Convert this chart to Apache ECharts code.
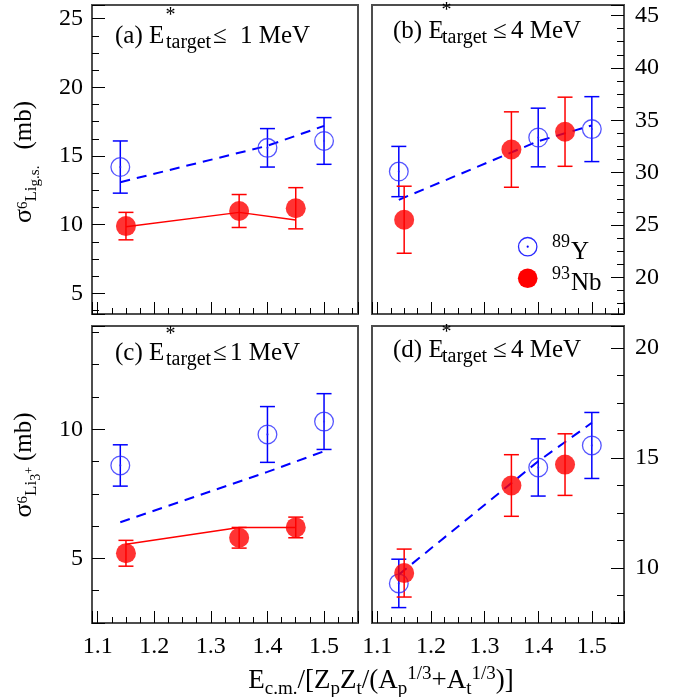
<!DOCTYPE html>
<html>
<head>
<meta charset="utf-8">
<script src="https://cdn.jsdelivr.net/npm/echarts@6/dist/echarts.min.js"></script>
<style>
  html, body { margin: 0; padding: 0; background: #ffffff; }
  #chart { width: 689px; height: 697px; }
</style>
</head>
<body>
<div id="chart"></div>
<script>
// Reduced beam energy of each measurement
const xY = [1.14, 1.40, 1.50];
const xNb = [1.15, 1.35, 1.45];

// (a) 6Li ground state, E*target <= 1 MeV
const aY = [14.2, 15.6, 16.1];
const aYErr = [1.9, 1.4, 1.7];
const aNb = [9.9, 11.0, 11.2];
const aNbErr = [1.0, 1.2, 1.5];
const aCalcY = [13.1, 15.75, 17.2];
const aCalcNb = [9.85, 10.9, 10.35];

// (b) 6Li ground state, E*target <= 4 MeV
const bY = [30.1, 33.35, 34.15];
const bYErr = [2.4, 2.8, 3.1];
const bNb = [25.5, 32.2, 33.9];
const bNbErr = [3.2, 3.6, 3.3];
const bCalcY = [27.4, 33.0, 34.5];

// (c) 6Li 3+ state, E*target <= 1 MeV
const cY = [8.6, 9.8, 10.3];
const cYErr = [0.8, 1.08, 1.08];
const cNb = [5.2, 5.8, 6.2];
const cNbErr = [0.5, 0.4, 0.4];
const cCalcY = [6.4, 8.35, 9.15];
const cCalcNb = [5.55, 6.2, 6.2];

// (d) 6Li 3+ state, E*target <= 4 MeV
const dY = [9.3, 14.57, 15.57];
const dYErr = [1.1, 1.3, 1.5];
const dNb = [9.77, 13.75, 14.7];
const dNbErr = [1.09, 1.4, 1.4];
const dCalcY = [9.7, 14.85, 16.6];

// Axis ranges and labelled ticks
const xRange = [1.09, 1.56];
const xTicks = [1.1, 1.2, 1.3, 1.4, 1.5];
const aRange = [3.5, 26];
const aTicks = [5, 10, 15, 20, 25];
const bRange = [16.5, 46];
const bTicks = [20, 25, 30, 35, 40, 45];
const cRange = [2.5, 14];
const cTicks = [5, 10];
const dRange = [7.5, 21];
const dTicks = [10, 15, 20];

const SERIF = '"Liberation Serif", "Times New Roman", Times, serif';
const BLUE = '#0000ff';
const RING_BLUE = '#2a2aff';
const RED = '#ff0000';
const FRAME = '#4d4d4d';
// open circle with a centre dot
const RING = 'path://M0,10A10,10,0,1,1,20,10A10,10,0,1,1,0,10Z' +
  'M1.3,10A8.7,8.7,0,1,0,18.7,10A8.7,8.7,0,1,0,1.3,10Z' +
  'M8.9,10A1.1,1.1,0,1,0,11.1,10A1.1,1.1,0,1,0,8.9,10Z';

const zip = (xs, ys) => xs.map((x, i) => [x, ys[i]]);

function labelFrom(ticks) {
  return function (v) {
    const t = ticks.find(t => Math.abs(t - v) < 1e-6);
    return t === undefined ? '' : String(t);
  };
}

const grids = [
  { left: 92, top: 5, width: 266, height: 309 },
  { left: 372, top: 5, width: 252, height: 309 },
  { left: 92, top: 326, width: 266, height: 297 },
  { left: 372, top: 326, width: 252, height: 297 }
].map(g => Object.assign(g, {
  show: true, borderColor: FRAME, borderWidth: 2, backgroundColor: 'transparent', containLabel: false
}));

function xAxisFor(i, showLabels) {
  return {
    type: 'value', gridIndex: i, min: xRange[0], max: xRange[1], splitNumber: 5,
    axisLine: { show: false },
    axisTick: { show: true, inside: true, length: 12, lineStyle: { color: '#000', width: 1 } },
    minorTick: { show: true, splitNumber: 4, length: 6, lineStyle: { color: '#000', width: 1 } },
    splitLine: { show: false },
    axisLabel: {
      show: showLabels, margin: 12, formatter: labelFrom(xTicks),
      fontFamily: SERIF, fontSize: 24, color: '#000'
    }
  };
}

function yAxisFor(i, range, ticks, split, pos) {
  return {
    type: 'value', gridIndex: i, min: range[0], max: range[1], splitNumber: split,
    position: pos,
    axisLine: { show: false },
    axisTick: { show: true, inside: true, length: 13, lineStyle: { color: '#000', width: 1 } },
    minorTick: { show: true, splitNumber: 4, length: 7, lineStyle: { color: '#000', width: 1 } },
    splitLine: { show: false },
    axisLabel: {
      margin: pos === 'right' ? 11 : 9, formatter: labelFrom(ticks),
      fontFamily: SERIF, fontSize: 24, color: '#000'
    }
  };
}

function errorBars(color) {
  return function (params, api) {
    const x = api.value(0), y = api.value(1), e = api.value(2);
    const hi = api.coord([x, y + e]);
    const lo = api.coord([x, y - e]);
    const cap = 7.5;
    const st = { stroke: color, lineWidth: 1.5 };
    return {
      type: 'group',
      children: [
        { type: 'line', shape: { x1: hi[0], y1: hi[1], x2: lo[0], y2: lo[1] }, style: st },
        { type: 'line', shape: { x1: hi[0] - cap, y1: hi[1], x2: hi[0] + cap, y2: hi[1] }, style: st },
        { type: 'line', shape: { x1: lo[0] - cap, y1: lo[1], x2: lo[0] + cap, y2: lo[1] }, style: st }
      ]
    };
  };
}

function panelSeries(i, yVals, yErr, nbVals, nbErr, calcY, calcNb) {
  const ax = { xAxisIndex: i, yAxisIndex: i };
  const list = [];
  list.push(Object.assign({
    type: 'line', data: zip(xY, calcY), symbol: 'none', silent: true, z: 2,
    lineStyle: { color: BLUE, width: 2, type: [10, 7] }
  }, ax));
  if (calcNb) {
    list.push(Object.assign({
      type: 'line', data: zip(xNb, calcNb), symbol: 'none', silent: true, z: 2,
      lineStyle: { color: RED, width: 1.5 }
    }, ax));
  }
  list.push(Object.assign({
    type: 'custom', renderItem: errorBars(BLUE), clip: false, z: 3, encode: { x: 0, y: 1 },
    data: yVals.map((v, k) => [xY[k], v, yErr[k]])
  }, ax));
  list.push(Object.assign({
    type: 'custom', renderItem: errorBars(RED), clip: false, z: 3, encode: { x: 0, y: 1 },
    data: nbVals.map((v, k) => [xNb[k], v, nbErr[k]])
  }, ax));
  list.push(Object.assign({
    type: 'scatter', name: '89Y', data: zip(xY, yVals), symbol: RING, symbolSize: 20, z: 4,
    itemStyle: { color: RING_BLUE }
  }, ax));
  list.push(Object.assign({
    type: 'scatter', name: '93Nb', data: zip(xNb, nbVals), symbol: 'circle', symbolSize: 20, z: 4,
    itemStyle: { color: RED }
  }, ax));
  return list;
}

// plain text placed by its baseline
function txt(str, x, base, fs) {
  return {
    type: 'text', x: x, y: base - 0.3375 * fs, z: 10,
    style: {
      text: str, fontFamily: SERIF, fontSize: fs, fill: '#000',
      align: 'left', textAlign: 'left', verticalAlign: 'middle', textVerticalAlign: 'middle'
    }
  };
}

// rich-text token whose baseline sits `shift` px below the main baseline `base`
function tok(fs, shift, base, padLeft) {
  const pad = Math.max(0, base + shift - 0.8375 * fs);
  return {
    fontFamily: SERIF, fontSize: fs, fill: '#000', height: fs,
    verticalAlign: 'top', padding: [pad, 0, 0, padLeft || 0]
  };
}

function panelTitle(letter, rest, xs, base, subBase, star) {
  return [
    txt('(' + letter + ') E', xs[0], base, 25),
    txt('*', star[0], star[1], 20),
    txt('target', xs[1], subBase, 20),
    txt('\u2264', xs[2], base, 25),
    txt(rest, xs[3], base, 25)
  ];
}

const graphics = [].concat(
  panelTitle('a', '1 MeV', [115, 166, 213, 240], 44.5, 49.5, [165.5, 22]),
  panelTitle('b', '4 MeV', [393, 442, 493, 511], 39.5, 44.5, [441.5, 17]),
  panelTitle('c', '1 MeV', [115, 166, 213, 230], 361.5, 366.5, [165.5, 341]),
  panelTitle('d', '4 MeV', [393, 442, 493, 511], 359, 363.5, [441.5, 339]),
  [
    // legend
    { type: 'circle', z: 10, shape: { cx: 527.7, cy: 246.7, r: 9.2 }, style: { fill: 'none', stroke: RING_BLUE, lineWidth: 1.3 } },
    { type: 'circle', z: 10, shape: { cx: 527.7, cy: 246.7, r: 1.1 }, style: { fill: BLUE } },
    { type: 'circle', z: 10, shape: { cx: 527.7, cy: 278.3, r: 9.8 }, style: { fill: RED } },
    txt('89', 552, 248, 18),
    txt('Y', 571, 260.5, 25),
    txt('93', 552, 280, 18),
    txt('Nb', 571, 292, 25),
    // y-axis titles
    {
      type: 'text', x: 27, y: 162, rotation: Math.PI / 2, z: 10,
      style: {
        text: '{s|\u03c3}{six|6}{li|Li}{gs|g.s.}{mb|(mb)}',
        align: 'center', textAlign: 'center', verticalAlign: 'middle', textVerticalAlign: 'middle',
        fontFamily: SERIF, fontSize: 25, fill: '#000',
        rich: {
          s: tok(26, 0, 22), six: tok(15, -4.7, 22), li: tok(17, 4.7, 22),
          gs: tok(15, 7.5, 22), mb: tok(25, 0, 22, 16)
        }
      }
    },
    {
      type: 'text', x: 27, y: 465, rotation: Math.PI / 2, z: 10,
      style: {
        text: '{s|\u03c3}{six|6}{li|Li}{th|3}{pl|+}{mb|(mb)}',
        align: 'center', textAlign: 'center', verticalAlign: 'middle', textVerticalAlign: 'middle',
        fontFamily: SERIF, fontSize: 25, fill: '#000',
        rich: {
          s: tok(26, 0, 22), six: tok(15, -4.7, 22), li: tok(17, 4.7, 22),
          th: tok(14, 8, 22), pl: tok(12, 1, 22), mb: tok(25, 0, 22, 6)
        }
      }
    },
    // x-axis title
    {
      type: 'text', x: 381, y: 664, z: 10,
      style: {
        text: '{m|E}{sb|c.m.}{m|/[Z}{sb|p}{m|Z}{sb|t}{m|/(A}{sb|p}{sp|1/3}{m|+A}{sb|t}{sp|1/3}{m|)]}',
        align: 'center', textAlign: 'center', verticalAlign: 'top', textVerticalAlign: 'top',
        fontFamily: SERIF, fontSize: 27, fill: '#000',
        rich: { m: tok(27, 0, 26), sb: tok(19, 5.5, 26), sp: tok(19, -10, 26) }
      }
    }
  ]
);

const chart = echarts.init(document.getElementById('chart'), null, { renderer: 'canvas' });
chart.setOption({
  animation: false,
  backgroundColor: '#ffffff',
  grid: grids,
  xAxis: [xAxisFor(0, false), xAxisFor(1, false), xAxisFor(2, true), xAxisFor(3, true)],
  yAxis: [
    yAxisFor(0, aRange, aTicks, 4, 'left'),
    yAxisFor(1, bRange, bTicks, 5, 'right'),
    yAxisFor(2, cRange, cTicks, 2, 'left'),
    yAxisFor(3, dRange, dTicks, 2, 'right')
  ],
  series: [].concat(
    panelSeries(0, aY, aYErr, aNb, aNbErr, aCalcY, aCalcNb),
    panelSeries(1, bY, bYErr, bNb, bNbErr, bCalcY, null),
    panelSeries(2, cY, cYErr, cNb, cNbErr, cCalcY, cCalcNb),
    panelSeries(3, dY, dYErr, dNb, dNbErr, dCalcY, null)
  ),
  graphic: { elements: graphics }
});
</script>
</body>
</html>
